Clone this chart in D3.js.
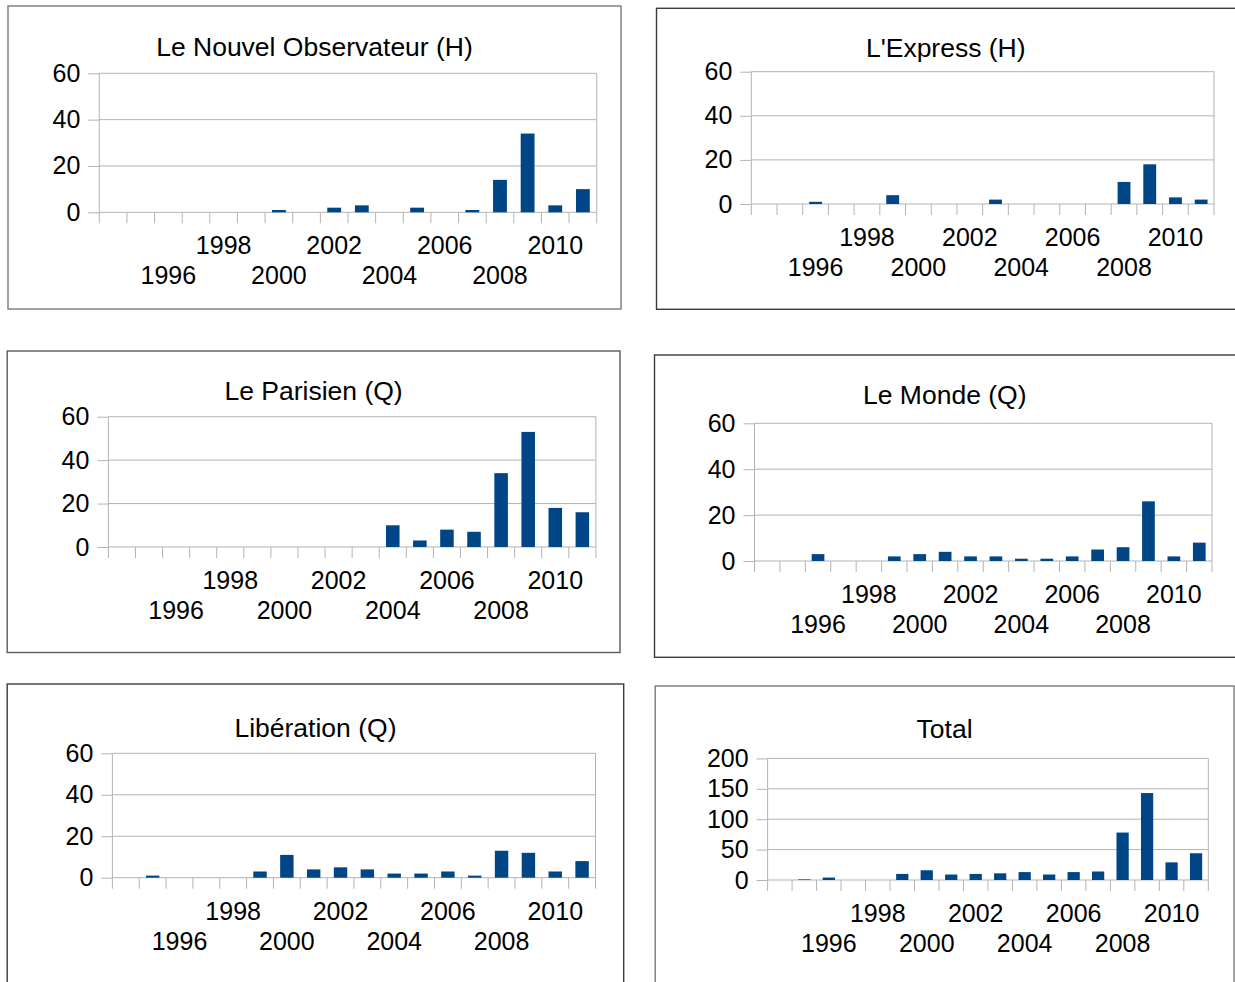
<!DOCTYPE html>
<html><head><meta charset="utf-8">
<script src="https://cdn.jsdelivr.net/npm/d3@7"></script>
<style>
body{margin:0;background:#fff;}
svg{display:block;}
text{font-family:"Liberation Sans",Arial,Helvetica,sans-serif;fill:#000;}
</style>
</head><body>
<svg id="chart" width="1235" height="982"></svg>
<script>
// ---- data ----
const years = ["1994","1995","1996","1997","1998","1999","2000","2001","2002","2003","2004","2005","2006","2007","2008","2009","2010","2011"];
const labeledYears = ["1996","1998","2000","2002","2004","2006","2008","2010"];
const nouvelObsValues  = [0,0,0,0,0,0,1,0,2,3,0,2,0,1,14,34,3,10];
const expressValues    = [0,0,1,0,0,4,0,0,0,2,0,0,0,0,10,18,3,2];
const parisienValues   = [0,0,0,0,0,0,0,0,0,0,10,3,8,7,34,53,18,16];
const mondeValues      = [0,0,3,0,0,2,3,4,2,2,1,1,2,5,6,26,2,8];
const liberationValues = [0,1,0,0,0,3,11,4,5,4,2,2,3,1,13,12,3,8];
const totalValues      = [0,1,4,0,0,10,16,9,10,11,13,9,13,14,78,143,29,44];
const ticks60  = [0,20,40,60];
const ticks200 = [0,50,100,150,200];

// ---- layout ----
const panels = [
  {title:"Le Nouvel Observateur (H)", values:nouvelObsValues, ticks:ticks60,
   frame:[8,6,621,309], plot:[99.3,73.3,596.7,212.3], titleY:56, frameColor:"#7a7a7a"},
  {title:"L'Express (H)", values:expressValues, ticks:ticks60,
   frame:[656.5,8.3,1240,309.3], plot:[751.3,71.7,1214,204], titleY:57, frameColor:"#3a3a3a"},
  {title:"Le Parisien (Q)", values:parisienValues, ticks:ticks60,
   frame:[7.2,351,620,652.5], plot:[108.4,416.7,595.9,547], titleY:400, frameColor:"#5a5a5a"},
  {title:"Le Monde (Q)", values:mondeValues, ticks:ticks60,
   frame:[654.5,355,1240,657.3], plot:[754.5,423.3,1212,561], titleY:404.3, frameColor:"#3a3a3a"},
  {title:"Libération (Q)", values:liberationValues, ticks:ticks60,
   frame:[7.2,684,623.7,990], plot:[112.4,753.3,595.5,877.7], titleY:736.7, frameColor:"#3a3a3a"},
  {title:"Total", values:totalValues, ticks:ticks200,
   frame:[655.2,686,1234,990], plot:[767.6,758.4,1208.3,880], titleY:738.3, frameColor:"#7a7a7a"}
];

const svg = d3.select("#chart");
const gridColor = "#b3b3b3";
const barColor = "#004586";
const tickLen = 11;

panels.forEach(p => {
  const [fx0, fy0, fx1, fy1] = p.frame;
  const [pl, pt, pr, pb] = p.plot;
  const g = svg.append("g");

  g.append("rect").attr("x", fx0).attr("y", fy0)
    .attr("width", fx1 - fx0).attr("height", fy1 - fy0)
    .attr("fill", "#fff").attr("stroke", p.frameColor).attr("stroke-width", 1.4);

  const x = d3.scaleBand().domain(years).range([pl, pr]).paddingInner(0).paddingOuter(0);
  const y = d3.scaleLinear().domain([0, d3.max(p.ticks)]).range([pb, pt]);

  // grid lines
  g.selectAll(".grid").data(p.ticks).enter().append("line")
    .attr("x1", pl).attr("x2", pr)
    .attr("y1", d => y(d)).attr("y2", d => y(d))
    .attr("stroke", gridColor).attr("stroke-width", 1);

  // vertical borders
  [pl, pr].forEach(xx => {
    g.append("line").attr("x1", xx).attr("x2", xx).attr("y1", pt).attr("y2", pb + tickLen)
      .attr("stroke", gridColor).attr("stroke-width", 1);
  });

  // x tick marks at category boundaries
  g.selectAll(".xt").data(years.slice(1)).enter().append("line")
    .attr("x1", d => x(d)).attr("x2", d => x(d))
    .attr("y1", pb).attr("y2", pb + tickLen)
    .attr("stroke", gridColor).attr("stroke-width", 1);

  // y axis
  const yAxis = d3.axisLeft(y).tickValues(p.ticks).tickSize(tickLen).tickPadding(8).tickFormat(d3.format("d"));
  const ya = g.append("g").attr("transform", `translate(${pl},0)`).call(yAxis);
  ya.select(".domain").remove();
  ya.selectAll(".tick line").attr("stroke", gridColor);
  ya.selectAll(".tick text").attr("font-size", 25).attr("fill", "#000")
    .attr("font-family", '"Liberation Sans",Arial,sans-serif');

  // bars
  const bw = x.bandwidth();
  g.selectAll(".bar").data(years.map((yr, i) => ({yr, v: p.values[i]})).filter(d => d.v > 0))
    .enter().append("rect")
    .attr("x", d => x(d.yr) + bw * 0.25)
    .attr("width", bw * 0.5)
    .attr("y", d => y(d.v))
    .attr("height", d => y(0) - y(d.v))
    .attr("fill", barColor);

  // x labels (staggered)
  g.selectAll(".xl").data(labeledYears).enter().append("text")
    .attr("x", d => x(d) + bw / 2)
    .attr("y", (d, i) => pb + (i % 2 === 0 ? 72 : 42))
    .attr("text-anchor", "middle")
    .attr("font-size", 25)
    .text(d => d);

  // title
  g.append("text")
    .attr("x", (fx0 + Math.min(fx1, 1235)) / 2 + (fx1 > 1235 ? 0 : 0))
    .attr("y", p.titleY)
    .attr("text-anchor", "middle")
    .attr("font-size", 26.5)
    .text(p.title);
});
</script>
</body></html>
